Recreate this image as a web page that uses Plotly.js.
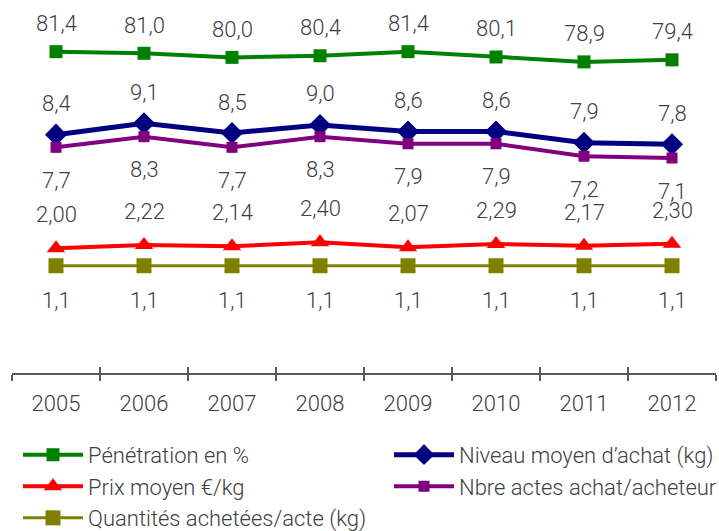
<!DOCTYPE html>
<html>
<head>
<meta charset="utf-8">
<script src="https://cdn.plot.ly/plotly-3.0.1.min.js"></script>
<style>html,body{margin:0;padding:0;background:#fff;}#chart{width:719px;height:531px;}</style>
</head>
<body>
<div id="chart"></div>
<script>
// ---- data ----
var years = ['2005','2006','2007','2008','2009','2010','2011','2012'];
var penetration = [81.4, 81.0, 80.0, 80.4, 81.4, 80.1, 78.9, 79.4];
var niveauMoyen = [8.4, 9.1, 8.5, 9.0, 8.6, 8.6, 7.9, 7.8];
var prixMoyen = [2.00, 2.22, 2.14, 2.40, 2.07, 2.29, 2.17, 2.30];
var nbreActes = [7.7, 8.3, 7.7, 8.3, 7.9, 7.9, 7.2, 7.1];
var quantites = [1.1, 1.1, 1.1, 1.1, 1.1, 1.1, 1.1, 1.1];
var seriesNames = ['Pénétration en %', 'Niveau moyen d\u2019achat (kg)', 'Prix moyen €/kg', 'Nbre actes achat/acheteur', 'Quantités achetées/acte (kg)'];

var FONT = 'Roboto, "Open Sans", sans-serif';
var TXT = '#404040';
function fmt(v, d) { return v.toFixed(d).replace('.', ','); }

var specs = [
  {y: penetration, name: seriesNames[0], color: '#008000', symbol: 'square', size: 13, lw: 4, ax: 'y', dec: 1, shift: 28, lg: 'legend'},
  {y: niveauMoyen, name: seriesNames[1], color: '#000080', symbol: 'diamond', size: 17, lw: 5, ax: 'y2', dec: 1, shift: 31, lg: 'legend2'},
  {y: prixMoyen, name: seriesNames[2], color: '#FF0000', symbol: 'triangle-up', size: 16, lw: 4, ax: 'y3', dec: 2, shift: 33.5, lg: 'legend'},
  {y: nbreActes, name: seriesNames[3], color: '#800080', symbol: 'square', size: 11, lw: 4, ax: 'y4', dec: 1, shift: -33, lg: 'legend2'},
  {y: quantites, name: seriesNames[4], color: '#808000', symbol: 'square', size: 15, lw: 3, ax: 'y5', dec: 1, shift: -35, lg: 'legend'}
];

var traces = [];
var annotations = [];
specs.forEach(function (s, i) {
  traces.push({
    type: 'scatter', mode: 'lines+markers',
    x: years, y: s.y, name: s.name, legend: s.lg,
    xaxis: i === 4 ? 'x2' : 'x', yaxis: s.ax,
    line: {color: s.color, width: s.lw},
    marker: {symbol: s.symbol, size: s.size, color: s.color},
    hoverinfo: 'skip'
  });
  s.y.forEach(function (v, j) {
    annotations.push({
      x: j, y: v, xref: 'x', yref: s.ax,
      text: fmt(v, s.dec), showarrow: false, yshift: s.shift,
      font: {family: FONT, size: 22, color: TXT, weight: 300}
    });
  });
});

var hiddenY = function (range) {
  return {visible: false, range: range, fixedrange: true, overlaying: 'y', showgrid: false, zeroline: false};
};
var legendBase = function (xpx) {
  return {
    orientation: 'v', xref: 'container', yref: 'container',
    x: xpx / 719, xanchor: 'left', y: 0.183, yanchor: 'top',
    itemwidth: 60, traceorder: 'normal', tracegroupgap: 0,
    font: {family: FONT, size: 22, color: TXT, weight: 300},
    bgcolor: 'rgba(0,0,0,0)'
  };
};

var layout = {
  width: 719, height: 531,
  margin: {l: 12, r: 3, t: 0, b: 158, autoexpand: false},
  paper_bgcolor: '#ffffff', plot_bgcolor: '#ffffff',
  font: {family: FONT, size: 22, color: TXT, weight: 300},
  showlegend: true,
  xaxis: {
    type: 'category', range: [-0.5, 7.5], tickson: 'boundaries',
    ticks: 'outside', ticklen: 6, tickwidth: 1.5, tickcolor: '#595959',
    showline: true, linecolor: '#595959', linewidth: 1.5,
    showgrid: false, zeroline: false, fixedrange: true,
    ticklabelstandoff: 10,
    tickfont: {family: FONT, size: 22, color: TXT, weight: 300}
  },
  xaxis2: {
    type: 'category', range: [-0.5, 7.5], tickson: 'boundaries', overlaying: 'x',
    anchor: 'y', side: 'bottom',
    ticks: 'inside', ticklen: 6, tickwidth: 1.5, tickcolor: '#595959',
    showticklabels: false, showline: false, showgrid: false, zeroline: false, fixedrange: true
  },
  yaxis: {visible: false, range: [3.0, 94.0], fixedrange: true, showgrid: false, zeroline: false},
  yaxis2: hiddenY([-6.36, 16.74]),
  yaxis3: hiddenY([-6.31, 18.56]),
  yaxis4: hiddenY([-5.01, 16.0]),
  yaxis5: hiddenY([-6.05, 18.82]),
  legend: legendBase(18),
  legend2: legendBase(389),
  annotations: annotations
};

Plotly.newPlot('chart', traces, layout, {displayModeBar: false, staticPlot: true});
</script>
</body>
</html>
